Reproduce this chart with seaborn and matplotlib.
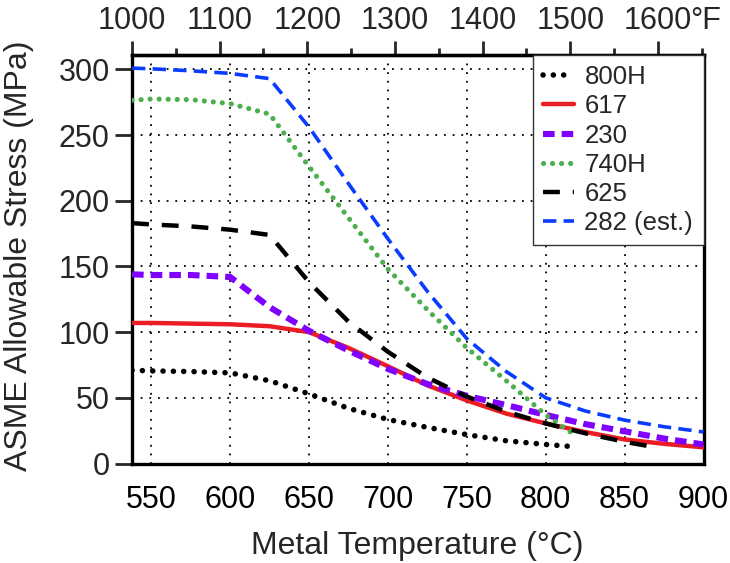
import numpy as np
import pandas as pd
import matplotlib
matplotlib.use("Agg")
import matplotlib.pyplot as plt
from matplotlib.ticker import FixedLocator, FixedFormatter, MultipleLocator
import seaborn as sns

# ---- data ----
t_800h = [537.8, 550, 575, 600, 625, 650, 675, 700, 725, 750, 775, 800, 815.6]
s_800h = [71, 70.5, 70, 69, 63, 53, 42, 33.5, 27.5, 22, 17.3, 14.5, 13]

t_617 = [537.8, 550, 575, 600, 625, 650, 675, 700, 725, 750, 775, 800, 825, 850, 875, 900]
s_617 = [107, 107, 106.5, 106, 104.5, 100, 88, 74, 59.5, 48, 38, 30.5, 24, 18.3, 15, 12.3]

t_230 = [537.8, 550, 575, 600, 625, 650, 675, 700, 725, 750, 775, 800, 825, 850, 875, 900]
s_230 = [144, 143.5, 143.5, 142, 119, 101, 86, 72, 60.5, 51.5, 44.5, 37, 30, 24.5, 19, 14.5]

t_740h = [537.8, 550, 575, 600, 625, 650, 675, 700, 725, 750, 775, 800, 815.6]
s_740h = [276.5, 277.5, 277, 274, 266, 226, 187, 148, 117, 88, 63, 37, 24]

t_625 = [537.8, 550, 575, 600, 625, 650, 675, 700, 725, 750, 775, 800, 825, 850, 871.1]
s_625 = [183, 182, 180.5, 178, 174, 138, 108, 85, 65.5, 51, 39.5, 30.5, 23, 16.5, 12]

t_282 = [537.8, 550, 575, 600, 625, 650, 675, 700, 725, 750, 775, 800, 825, 850, 875, 900]
s_282 = [301, 300.5, 299, 297, 293, 256, 213, 171, 131, 95, 70, 50, 40, 33, 28, 24]

x_ticks_c = [550, 600, 650, 700, 750, 800, 850, 900]
y_ticks = [0, 50, 100, 150, 200, 250, 300]
f_ticks = [1000, 1100, 1200, 1300, 1400, 1500, 1600]
f_labels = ["1000", "1100", "1200", "1300", "1400", "1500", "1600"]

series = [
    ("800H", t_800h, s_800h, dict(color="black", linewidth=4.0, linestyle=(0, (0.01, 1.85)),
                                  dash_capstyle="round")),
    ("617", t_617, s_617, dict(color="#ec1c24", linewidth=3.2, linestyle="-")),
    ("230", t_230, s_230, dict(color="#8000ff", linewidth=4.4, linestyle=(0, (1.9, 1.15)))),
    ("740H", t_740h, s_740h, dict(color="#4cae4c", linewidth=3.7, linestyle=(0, (0.01, 1.75)),
                                  dash_capstyle="round")),
    ("625", t_625, s_625, dict(color="black", linewidth=3.2, linestyle=(0, (3.8, 2.9)))),
    ("282 (est.)", t_282, s_282, dict(color="#0a3cff", linewidth=2.6, linestyle=(0, (3.7, 2.0)))),
]

sns.set_style("white")
plt.rcParams["font.family"] = ["Liberation Sans", "DejaVu Sans"]

fig = plt.figure(figsize=(7.3, 5.63), dpi=100)
ax = fig.add_axes([0.18082, 0.17673, 0.78288, 0.72558])

for name, t, s, kw in series:
    df = pd.DataFrame({"T": t, "S": s})
    sns.lineplot(data=df, x="T", y="S", ax=ax, label=name, estimator=None,
                 sort=False, zorder=3, **kw)

def c2f(c):
    return np.asarray(c) * 9.0 / 5.0 + 32.0

def f2c(f):
    return (np.asarray(f) - 32.0) * 5.0 / 9.0

ax.set_xlim(float(f2c(999.99)), 900)
ax.set_ylim(0, 311)

# grid
ax.xaxis.set_major_locator(FixedLocator(x_ticks_c))
ax.xaxis.set_minor_locator(MultipleLocator(10))
ax.yaxis.set_major_locator(FixedLocator(y_ticks))
ax.grid(True, which="major", color="black", linestyle=(0, (1, 3.8)), linewidth=1.3, zorder=0)
ax.set_axisbelow(True)

for sp in ax.spines.values():
    sp.set_visible(True)
    sp.set_linewidth(2.4)
    sp.set_color("black")

ax.tick_params(axis="x", which="major", direction="out", length=10.5, width=2.0,
               labelsize=22, pad=5, colors="black")
ax.tick_params(axis="x", which="minor", direction="out", length=5.5, width=2.0)
ax.tick_params(axis="y", which="major", direction="out", length=12, width=2.0,
               labelsize=22, pad=4, left=True, right=False)
ax.tick_params(axis="y", which="minor", left=False)

ax.set_xlabel("Metal Temperature (°C)", fontsize=23)
ax.set_ylabel("ASME Allowable Stress (MPa)", fontsize=23)
ax.xaxis.set_label_coords(0.5, -0.165)
ax.yaxis.set_label_coords(-0.172, 0.508)

# top Fahrenheit axis
sec = ax.secondary_xaxis("top", functions=(c2f, f2c))
sec.xaxis.set_major_locator(FixedLocator(f_ticks))
sec.xaxis.set_major_formatter(FixedFormatter(f_labels))
sec.xaxis.set_minor_locator(FixedLocator([1050, 1150, 1250, 1350, 1450, 1550, 1650]))
sec.tick_params(axis="x", which="major", direction="out", length=10, width=2.0,
                labelsize=22, pad=4)
sec.tick_params(axis="x", which="minor", direction="out", length=5, width=2.0)
sec.spines["top"].set_linewidth(2.4)
ax.annotate("°F", xy=(float(f2c(1600)), 1.0), xycoords=("data", "axes fraction"),
            xytext=(23.2, 14), textcoords="offset points", ha="left", va="bottom",
            fontsize=22, annotation_clip=False)

leg = ax.legend(loc="upper right", borderaxespad=0, fontsize=18.5, frameon=True,
                fancybox=False, edgecolor="#333333", framealpha=1,
                handlelength=1.2, handletextpad=0.4, labelspacing=0.2,
                borderpad=0.4)
leg.get_frame().set_linewidth(1.0)

fig.savefig("out.png", dpi=100)
